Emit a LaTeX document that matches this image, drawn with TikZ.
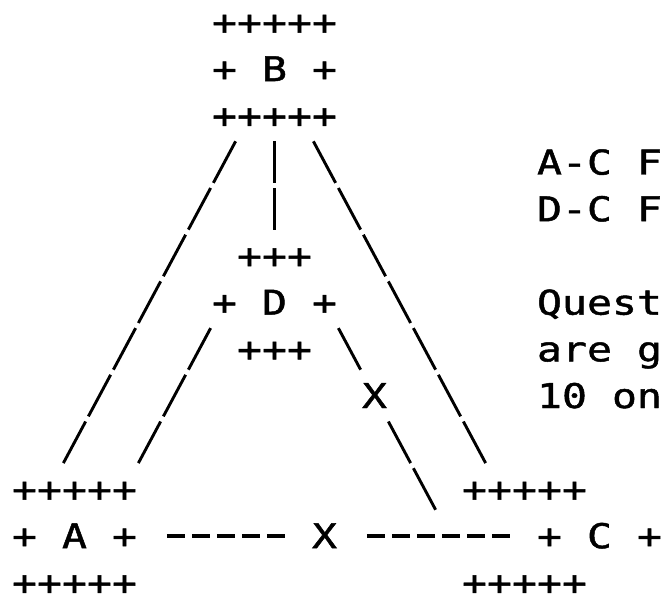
\documentclass[tikz,border=0pt]{standalone}
\usepackage{fontspec}
\newfontfamily\asciifont[FakeStretch=1.221, FakeBold=1.4]{DejaVu Sans Mono}
\usetikzlibrary{calc}
\tikzset{
  glyph/.style={font=\asciifont\fontsize{34pt}{46.7pt}\selectfont,
                inner sep=0pt, text height=24.8pt, text depth=0pt},
  slashes/.style={line width=2.9pt, dash pattern=on 47.14pt off 5.83pt,
                  shorten <=29.4pt, shorten >=29.4pt},
  bars/.style={line width=2.9pt, dash pattern=on 41.56pt off 5.14pt,
               shorten <=25.92pt, shorten >=25.92pt},
  hyphens/.style={line width=3.6pt, dash pattern=on 18.5pt off 6.5pt},
}

\begin{document}
\begin{tikzpicture}[x=25pt, y=-46.7pt]
  \fill[white] (-0.98,-0.471) rectangle (25.7,12.334);
  \useasboundingbox (-0.98,-0.471) rectangle (25.7,12.334);
  \node[glyph] (Btop) at (10,0) {+++++};
  \node[glyph] (B)    at (10,1) {+ B +};
  \node[glyph] (Bbot) at (10,2) {+++++};
  \node[glyph] (Dtop) at (10,5) {+++};
  \node[glyph] (D)    at (10,6) {+ D +};
  \node[glyph] (Dbot) at (10,7) {+++};
  \node[glyph] (Atop) at (2,10) {+++++};
  \node[glyph] (A)    at (2,11) {+ A +};
  \node[glyph] (Abot) at (2,12) {+++++};
  \node[glyph] (Ctop) at (20,10) {+++++};
  \node[glyph] (C)    at (23,11) {+ C +};
  \node[glyph] (Cbot) at (20,12) {+++++};
  \node[glyph] (xdc)  at (14,8) {X};
  \node[glyph] (xac)  at (12,11) {X};
  \node[glyph] (note1) at (23,3) {A-C F};
  \node[glyph] (note2) at (23,4) {D-C F};
  \node[glyph] (note3) at (23,6) {Quest};
  \node[glyph] (note4) at (23,7) {are g};
  \node[glyph] (note5) at (23,8) {10 on};
  \draw[slashes] ($(Bbot.center)+(-1,0)$) -- ($(Atop.center)+(-1,0)$);
  \draw[bars] (Bbot.center) -- (Dtop.center);
  \draw[slashes] ($(Bbot.center)+(1,0)$) -- ($(Ctop.center)+(-1,0)$);
  \draw[slashes] ($(D.center)+(-2,0)$) -- ($(Atop.center)+(2,0)$);
  \draw[slashes] ($(D.center)+(2,0)$) -- (xdc.center);
  \draw[slashes] (xdc.center) -- ($(xac.center)+(5,0)$);
  \draw[hyphens, shorten <=92.25pt, shorten >=39.25pt] (A.center) -- (xac.center);
  \draw[hyphens, shorten <=42.25pt, shorten >=89.25pt] (xac.center) -- (C.center);
\end{tikzpicture}
\end{document}
